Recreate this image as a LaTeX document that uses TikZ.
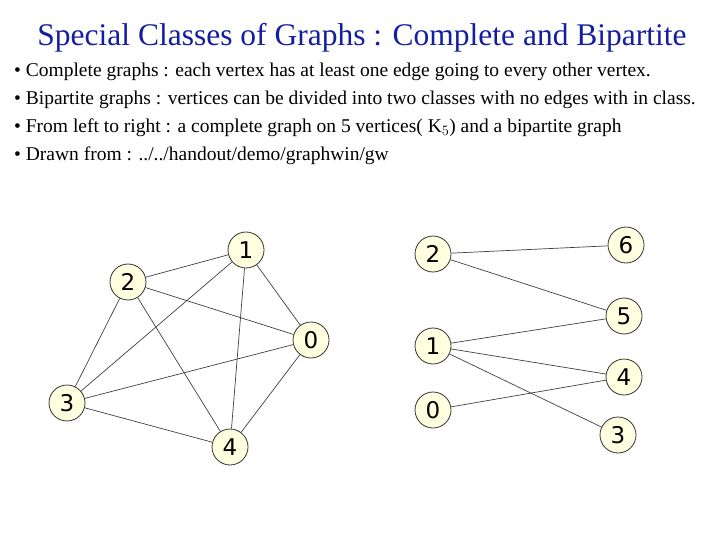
\documentclass[tikz,border=0pt]{standalone}
\usepackage{fontspec}
\setmainfont{Liberation Serif}
\newfontfamily\digfont{DejaVu Sans}
\begin{document}
\begin{tikzpicture}[x=1pt,y=-1pt,
  vtx/.style={circle,draw=black!80,line width=0.8pt,fill={rgb,255:red,255;green,255;blue,224},minimum size=36pt,inner sep=0pt,font=\digfont\fontsize{23}{25}\selectfont},
  edge/.style={draw=black!75,line width=0.7pt},
  txt/.style={anchor=west,inner sep=0pt,font=\fontsize{19.5}{21}\selectfont}]
\useasboundingbox (0,0) rectangle (720,540);
\node[font=\fontsize{31.5}{34}\selectfont,text={rgb,255:red,20;green,30;blue,160}] (title) at (362,38) {Special Classes of Graphs : Complete and Bipartite};
\node[txt] (l1) at (14,72) {• Complete graphs : each vertex has at least one edge going to every other vertex.};
\node[txt] (l2) at (14,100) {• Bipartite graphs : vertices can be divided into two classes with no edges with in class.};
\node[txt] (l3) at (14,128) {• From left to right : a complete graph on 5 vertices( K$_5$) and a bipartite graph};
\node[txt] (l4) at (14,156) {• Drawn from : ../../handout/demo/graphwin/gw};
\node[vtx] (a1) at (246,250) {1};
\node[vtx] (a2) at (128,282) {2};
\node[vtx] (a0) at (311,340) {0};
\node[vtx] (a3) at (67,403) {3};
\node[vtx] (a4) at (230,447) {4};
\foreach \u/\v in {a1/a2,a1/a0,a1/a3,a1/a4,a2/a0,a2/a3,a2/a4,a0/a3,a0/a4,a3/a4}
  \draw[edge] (\u) -- (\v);
\node[vtx] (b2) at (433,254) {2};
\node[vtx] (b1) at (433,346) {1};
\node[vtx] (b0) at (433,410) {0};
\node[vtx] (b6) at (626,245) {6};
\node[vtx] (b5) at (624,316) {5};
\node[vtx] (b4) at (624,377) {4};
\node[vtx] (b3) at (618,435) {3};
\foreach \u/\v in {b2/b6,b2/b5,b1/b5,b1/b4,b1/b3,b0/b4}
  \draw[edge] (\u) -- (\v);
\end{tikzpicture}
\end{document}
